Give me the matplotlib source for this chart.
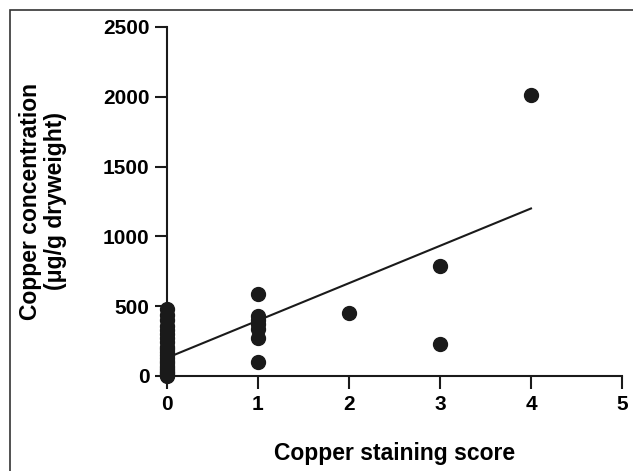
import matplotlib
matplotlib.use('Agg')
import matplotlib.pyplot as plt
from matplotlib.patches import Rectangle

plt.rcParams['font.family'] = ['Liberation Sans', 'DejaVu Sans']
plt.rcParams['font.weight'] = 'bold'

# staining score groups and measured copper (ug/g dry weight)
score0 = [0, 10, 20, 30, 45, 60, 75, 90, 110, 130, 150, 170, 190, 210,
          240, 270, 300, 330, 360, 400, 440, 480]
score1 = [590, 430, 400, 370, 340, 270, 100]
score2 = [450]
score3 = [790, 230]
score4 = [2010]

fit_x = [0, 4]
fit_y = [130, 1200]

xticks = [0, 1, 2, 3, 4, 5]
yticks = [0, 500, 1000, 1500, 2000, 2500]

xs = []
ys = []
for s, vals in enumerate([score0, score1, score2, score3, score4]):
    xs += [s] * len(vals)
    ys += vals

fig = plt.figure(figsize=(6.33, 4.71), dpi=100)

# outer frame
fig.patches.append(Rectangle((10 / 633, -0.1), 1.2, 1 - 10 / 471 + 0.1,
                             transform=fig.transFigure, fill=False,
                             edgecolor='#333333', linewidth=1.2))

ax = fig.add_axes([0.2638, 0.2017, 0.7188, 0.741])
ax.scatter(xs, ys, s=100, color='#1a1a1a', zorder=3, clip_on=False)
ax.plot(fit_x, fit_y, color='#1a1a1a', linewidth=1.5)

ax.set_xlim(0, 5)
ax.set_ylim(0, 2500)
ax.set_xticks(xticks)
ax.set_yticks(yticks)
ax.tick_params(labelsize=15, width=1.5, length=9, color='#1a1a1a')
ax.tick_params(axis='x', pad=5)
for side in ['top', 'right']:
    ax.spines[side].set_visible(False)
for side in ['left', 'bottom']:
    ax.spines[side].set_linewidth(1.5)
    ax.spines[side].set_color('#1a1a1a')
for lab in ax.get_xticklabels() + ax.get_yticklabels():
    lab.set_fontweight('bold')

ax.set_xlabel('Copper staining score', fontsize=16.5, fontweight='bold', labelpad=20)
ax.set_ylabel('Copper concentration\n(\u03bcg/g dryweight)', fontsize=16.5,
              fontweight='bold', labelpad=26, linespacing=1.1)

fig.savefig('out.png', dpi=100)
plt.close()
